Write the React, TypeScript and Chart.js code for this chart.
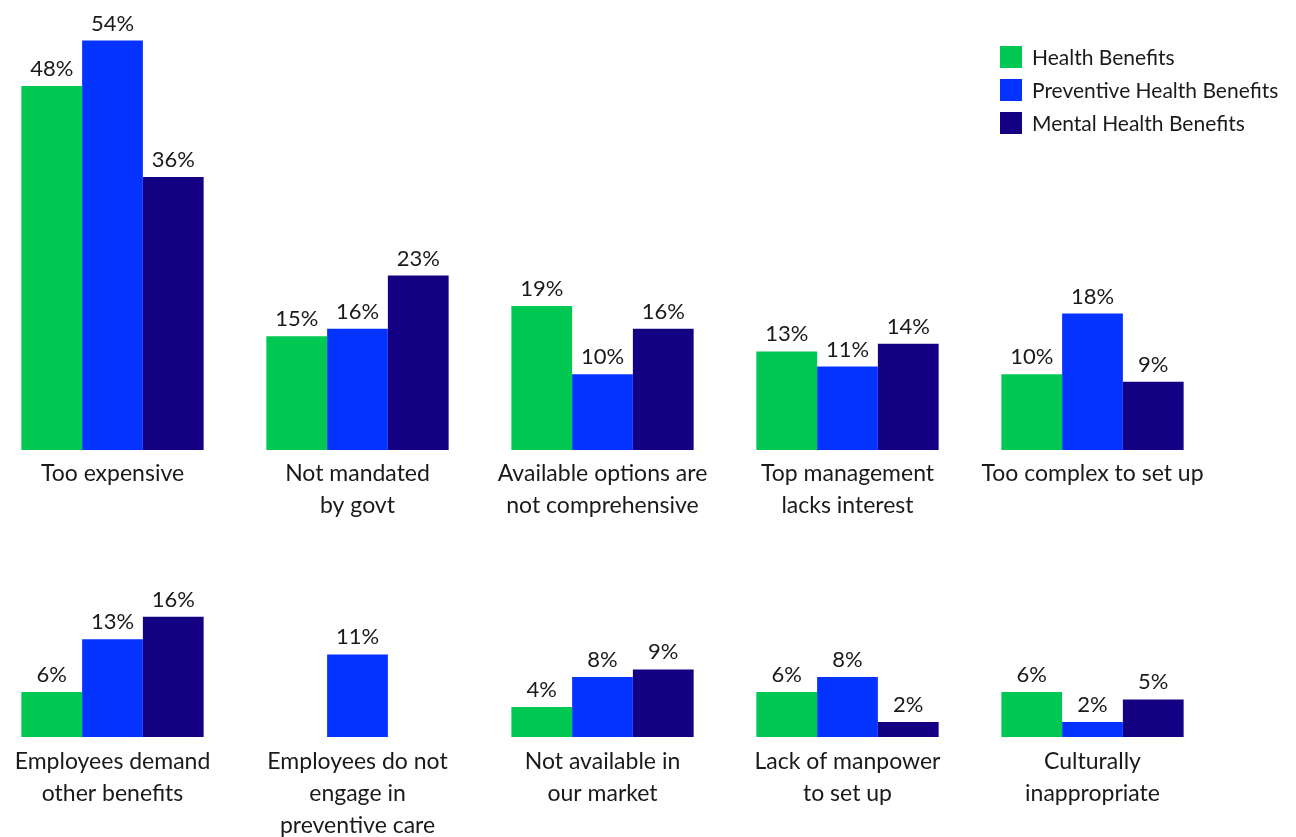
import React, { useEffect, useRef } from "react";
import { Chart, registerables } from "chart.js";

Chart.register(...registerables);

const seriesNames = ["Health Benefits", "Preventive Health Benefits", "Mental Health Benefits"];
const seriesColors = ["#00C853", "#0433FF", "#130082"];

const row1Categories: string[][] = [
  ["Too expensive"],
  ["Not mandated", "by govt"],
  ["Available options are", "not comprehensive"],
  ["Top management", "lacks interest"],
  ["Too complex to set up"],
];
const row1Health = [48, 15, 19, 13, 10];
const row1Preventive = [54, 16, 10, 11, 18];
const row1Mental = [36, 23, 16, 14, 9];

const row2Categories: string[][] = [
  ["Employees demand", "other benefits"],
  ["Employees do not", "engage in", "preventive care"],
  ["Not available in", "our market"],
  ["Lack of manpower", "to set up"],
  ["Culturally", "inappropriate"],
];
const row2Health = [6, null, 4, 6, 6];
const row2Preventive = [13, 11, 8, 8, 2];
const row2Mental = [16, null, 9, 2, 5];

const FONT = "Lato, 'Noto Sans', sans-serif";
const TEXT = "#1a1a1a";

const valueLabels = {
  id: "valueLabels",
  afterDatasetsDraw(chart: any) {
    const ctx = chart.ctx;
    ctx.save();
    ctx.font = `22px ${FONT}`;
    ctx.fillStyle = TEXT;
    ctx.textAlign = "center";
    ctx.textBaseline = "alphabetic";
    chart.data.datasets.forEach((ds: any, di: number) => {
      const meta = chart.getDatasetMeta(di);
      meta.data.forEach((bar: any, i: number) => {
        const v = ds.data[i];
        if (v === null || v === undefined) return;
        ctx.fillText(`${v}%`, bar.x, bar.y - 10);
      });
    });
    ctx.restore();
  },
};

const boxLegend = {
  id: "boxLegend",
  afterDraw(chart: any, _args: any, opts: any) {
    if (!opts || !opts.show) return;
    const ctx = chart.ctx;
    ctx.save();
    ctx.font = `21px ${FONT}`;
    ctx.textBaseline = "middle";
    ctx.textAlign = "left";
    chart.data.datasets.forEach((ds: any, i: number) => {
      const x = opts.x;
      const y = opts.y + i * 33;
      ctx.fillStyle = ds.backgroundColor;
      ctx.fillRect(x, y, 22, 22);
      ctx.fillStyle = TEXT;
      ctx.fillText(ds.label, x + 32, y + 12);
    });
    ctx.restore();
  },
};

function makeConfig(
  labels: string[][],
  a: (number | null)[],
  b: (number | null)[],
  c: (number | null)[],
  yMax: number,
  padTop: number,
  axisHeight: number,
  tickPad: number,
  legend: boolean
): any {
  const values = [a, b, c];
  return {
    type: "bar",
    data: {
      labels,
      datasets: values.map((d, i) => ({
        label: seriesNames[i],
        data: d,
        backgroundColor: seriesColors[i],
        borderWidth: 0,
        categoryPercentage: 0.744,
        barPercentage: 1.0,
      })),
    },
    options: {
      responsive: false,
      maintainAspectRatio: false,
      animation: false,
      layout: { padding: { left: 0, right: 81, top: padTop, bottom: 0 } },
      plugins: {
        legend: { display: false },
        tooltip: { enabled: false },
        boxLegend: { show: legend, x: 1010, y: 46 },
      },
      scales: {
        x: {
          grid: { display: false, drawTicks: false },
          border: { display: false },
          ticks: {
            autoSkip: false,
            maxRotation: 0,
            minRotation: 0,
            padding: tickPad,
            color: TEXT,
            font: { family: FONT, size: 23, lineHeight: 32 / 23 },
          },
          afterFit: (s: any) => {
            s.height = axisHeight;
          },
        },
        y: { display: false, min: 0, max: yMax },
      },
    },
    plugins: [valueLabels, boxLegend],
  };
}

function ChartCanvas(props: { config: any; top: number; height: number }) {
  const ref = useRef<HTMLCanvasElement | null>(null);
  useEffect(() => {
    if (!ref.current) return;
    const chart = new Chart(ref.current, props.config);
    return () => chart.destroy();
  }, []);
  return (
    <div style={{ position: "absolute", left: -10, top: props.top, width: 1306, height: props.height }}>
      <canvas ref={ref} width={1306} height={props.height} style={{ display: "block" }} />
    </div>
  );
}

export default function App() {
  const cfg1 = makeConfig(row1Categories, row1Health, row1Preventive, row1Mental, 57.5, 14, 90, 8, true);
  const cfg2 = makeConfig(row2Categories, row2Health, row2Preventive, row2Mental, 24.9, 10, 120, 9, false);
  return (
    <div style={{ position: "absolute", left: 0, top: 0, width: 1296, height: 837 }}>
      <ChartCanvas config={cfg1} top={0} height={540} />
      <ChartCanvas config={cfg2} top={540} height={317} />
    </div>
  );
}
